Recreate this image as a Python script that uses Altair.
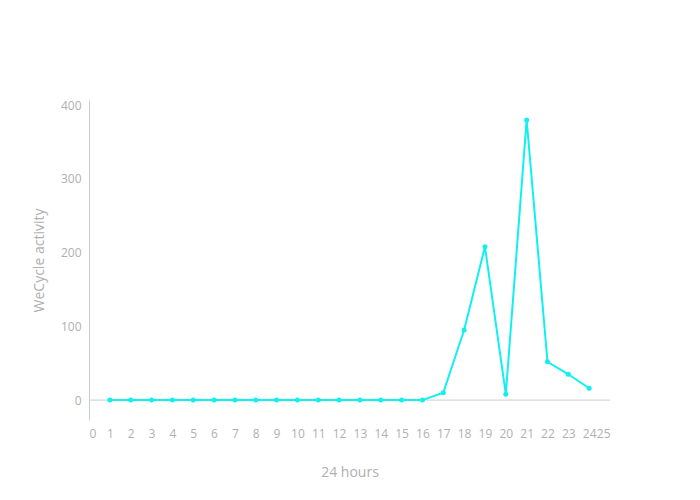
import altair as alt
import pandas as pd

hours = list(range(1, 25))
activity = [0]*16 + [10, 95, 208, 8, 380, 52, 35, 16]
df = pd.DataFrame({"hour": hours, "activity": activity})

grey = "#b0b0b0"
x = alt.X("hour:Q", title="24 hours", scale=alt.Scale(domain=[0, 25], nice=False, zero=False),
          axis=alt.Axis(values=list(range(0, 26)), grid=False, domain=False, ticks=False,
                        labelOverlap=False, labelPadding=8, titlePadding=26, labelColor=grey, titleColor=grey,
                        labelFont="Open Sans", titleFont="Open Sans", labelFontSize=12,
                        titleFontSize=14, titleFontWeight="normal"))
y = alt.Y("activity:Q", title="WeCycle activity", scale=alt.Scale(domain=[-27, 407], nice=False, zero=False),
          axis=alt.Axis(values=[0, 50, 100, 150, 200, 250, 300, 350, 400], grid=False, ticks=False,
                        labelOverlap=False, domainColor="#cccccc", labelPadding=8, titlePadding=14,
                        labelColor=grey, titleColor=grey, labelFont="Open Sans", titleFont="Open Sans",
                        labelFontSize=12, titleFontSize=14, titleFontWeight="normal"))

line = alt.Chart(df).mark_line(color="#10f0f0", strokeWidth=2, point=alt.OverlayMarkDef(color="#10f0f0", size=25, filled=True, opacity=1)).encode(x=x, y=y)
zero = alt.Chart(pd.DataFrame({"z": [0]})).mark_rule(color="#cccccc", strokeWidth=1).encode(y="z:Q")

chart = alt.layer(zero, line).properties(
    width=521, height=320, autosize=alt.AutoSizeParams(type="none"),
    padding={"left": 81, "top": 92, "right": 70, "bottom": 70}
).configure_view(stroke=None)
chart.save("out.html", embed_options={"renderer": "svg", "actions": False})
